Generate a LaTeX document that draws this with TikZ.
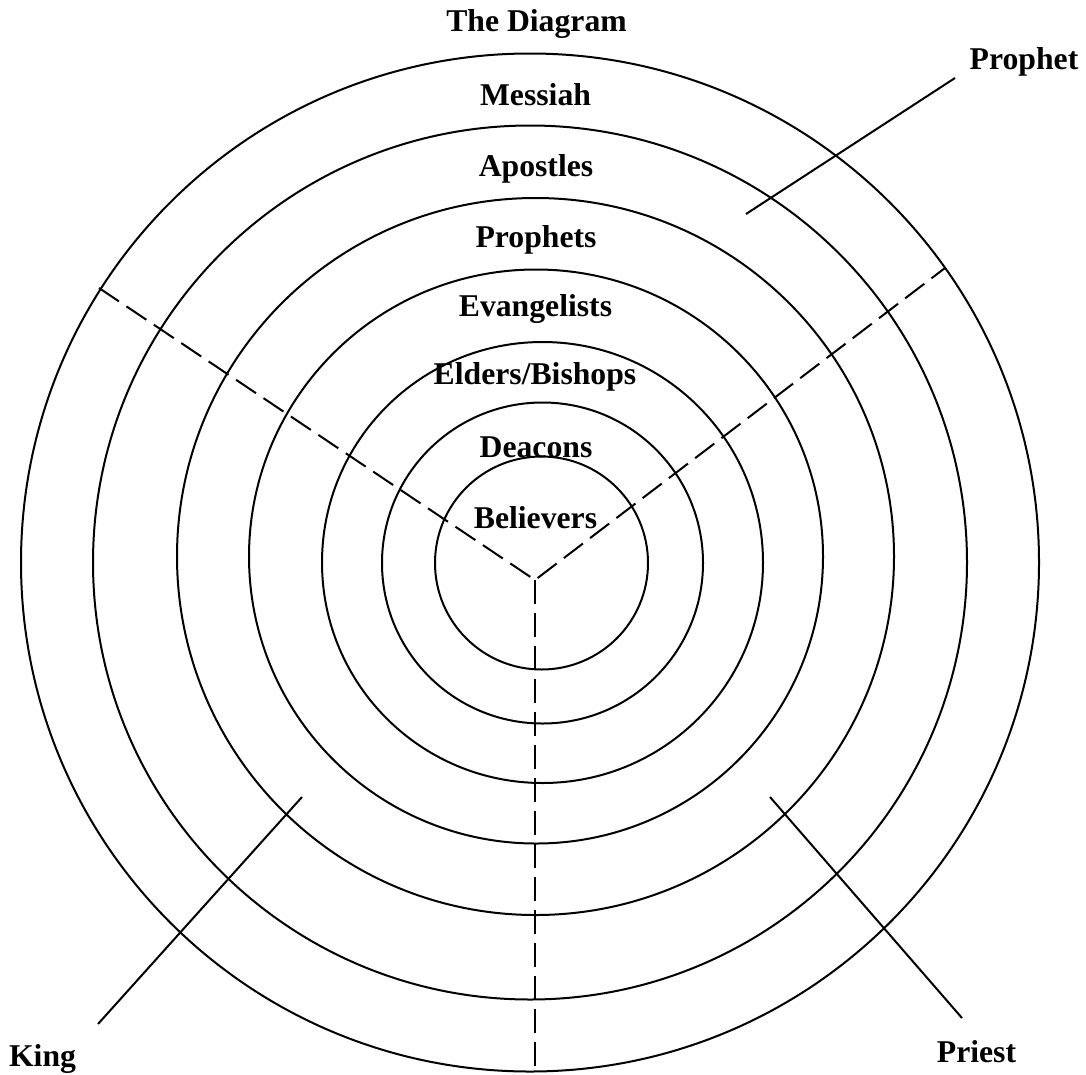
\documentclass[tikz,border=0pt]{standalone}
\usepackage{fontspec}
\setmainfont{Liberation Serif}
\begin{document}
\begin{tikzpicture}[x=1pt,y=-1pt,
  ring/.style={line width=2pt},
  divider/.style={line width=2pt,dash pattern=on 24pt off 9pt},
  pointer/.style={line width=2pt},
  lbl/.style={anchor=base,inner sep=0pt,font=\fontsize{31.7pt}{38pt}\selectfont\bfseries}]
\useasboundingbox (0,0) rectangle (1086,1074);
% rings
\draw[ring] (541.5,563) circle[radius=106.5];
\draw[ring] (542.5,563) circle[radius=160.5];
\draw[ring] (542.5,562.5) circle[radius=220.5];
\draw[ring] (536,556.5) circle[radius=287];
\draw[ring] (535.5,556.5) circle[radius=358.5];
\draw[ring] (530,562.5) circle[radius=437];
\draw[ring] (530,562.5) circle[radius=509];
% dividers
\coordinate (v) at (535,580);
\coordinate (dl) at (99,288);
\coordinate (dr) at (945,268);
\coordinate (db) at (535,1071);
\draw[divider] (dl) -- (v) -- (dr);
\draw[divider] (v) -- (db);
% labels
\node[lbl] (title) at (536.5,31) {The Diagram};
\node[lbl] (messiah) at (535.5,105) {Messiah};
\node[lbl] (apostles) at (536,176) {Apostles};
\node[lbl] (prophets) at (536,247) {Prophets};
\node[lbl] (evang) at (535.5,316) {Evangelists};
\node[lbl] (elders) at (535,384) {Elders/Bishops};
\node[lbl] (deacons) at (536,457) {Deacons};
\node[lbl] (believers) at (535.5,528) {Believers};
\node[lbl] (prophet) at (1024,69) {Prophet};
\node[lbl] (king) at (42.5,1066) {King};
\node[lbl] (priest) at (976.5,1062) {Priest};
% pointers
\coordinate (pa) at (746,214);
\coordinate (pb) at (955,78);
\coordinate (ka) at (302,797);
\coordinate (kb) at (98,1024);
\coordinate (ra) at (770,797);
\coordinate (rb) at (962,1018);
\draw[pointer] (pa) -- (pb);
\draw[pointer] (ka) -- (kb);
\draw[pointer] (ra) -- (rb);
\end{tikzpicture}
\end{document}
